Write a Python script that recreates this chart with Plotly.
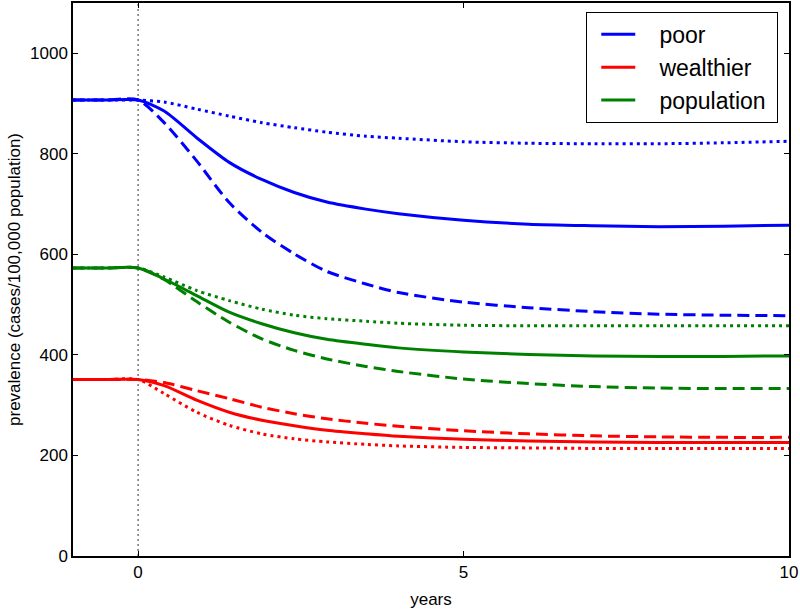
import plotly.graph_objects as go

years = [-1, -0.5, 0, 0.4, 0.9, 1.4, 1.9, 2.4, 2.9, 3.5, 4, 5, 6, 7, 8, 9, 10]

poor_solid = [907, 907, 907, 885, 832, 783, 749, 723, 704, 690, 681, 668, 660, 657, 655, 656, 658]
poor_dashed = [907, 907, 907, 862, 786, 703, 644, 601, 566, 541, 524, 505, 494, 486, 481, 479, 478]
poor_dotted = [907, 907, 907, 903, 889, 875, 862, 852, 843, 835, 831, 824, 821, 820, 820, 822, 825]

pop_solid = [573, 573, 573, 551, 518, 485, 462, 444, 431, 421, 414, 406, 401, 398, 397, 397, 398]
pop_dashed = [573, 573, 573, 550, 506, 465, 432, 409, 392, 377, 367, 352, 343, 337, 334, 333, 333]
pop_dotted = [573, 573, 573, 555, 528, 508, 491, 479, 472, 467, 463, 459, 458, 458, 458, 458, 458]

wealth_solid = [351, 351, 351, 339, 310, 286, 270, 259, 250, 243, 238, 232, 229, 227, 226, 226, 226]
wealth_dashed = [351, 351, 351, 345, 329, 313, 296, 283, 273, 264, 258, 249, 243, 239, 237, 236, 236]
wealth_dotted = [351, 351, 351, 323, 286, 260, 243, 233, 227, 222, 219, 216, 215, 214, 214, 214, 214]

legend_names = ["poor", "wealthier", "population"]
x_ticks = [0, 5, 10]
y_ticks = [0, 200, 400, 600, 800, 1000]

BLUE = "#0000ff"
RED = "#ff0000"
GREEN = "#008000"
FONT = "Liberation Sans, Arial, Helvetica, sans-serif"
NB = "\u00a0"

DASHES = {"solid": "solid", "dash": "12px,6px", "dot": "3px,4px"}

fig = go.Figure()

def add(y, color, dash, name, show, group):
    fig.add_trace(go.Scatter(
        x=years, y=y, mode="lines",
        name=(NB * 3 + name + NB) if show else name,
        showlegend=show,
        legendgroup=group,
        line=dict(color=color, width=3, dash=DASHES[dash],
                  shape="spline", smoothing=0.75),
        hoverinfo="skip",
    ))

add(poor_dotted, BLUE, "dot", legend_names[0], False, "g1")
add(poor_dashed, BLUE, "dash", legend_names[0], False, "g1")
add(pop_dotted, GREEN, "dot", legend_names[2], False, "g3")
add(pop_dashed, GREEN, "dash", legend_names[2], False, "g3")
add(wealth_dotted, RED, "dot", legend_names[1], False, "g2")
add(wealth_dashed, RED, "dash", legend_names[1], False, "g2")
add(poor_solid, BLUE, "solid", legend_names[0], True, "g1")
add(wealth_solid, RED, "solid", legend_names[1], True, "g2")
add(pop_solid, GREEN, "solid", legend_names[2], True, "g3")

fig.add_vline(x=0, line=dict(color="#555555", width=1.2, dash="2px,3px"), layer="below")

fig.update_layout(
    width=800, height=612,
    margin=dict(l=73, r=11, t=1, b=56),
    paper_bgcolor="white", plot_bgcolor="white",
    font=dict(family=FONT, size=17, color="black"),
    showlegend=True,
    legend=dict(
        x=0.985, y=0.984, xanchor="right", yanchor="top",
        bordercolor="black", borderwidth=1, bgcolor="white",
        font=dict(family=FONT, size=23, color="black"),
        traceorder="grouped", tracegroupgap=0,
        itemwidth=34, indentation=9,
    ),
    xaxis=dict(
        range=[-1, 10], tickvals=x_ticks, ticktext=[str(v) for v in x_ticks],
        showgrid=False, zeroline=False, showline=True, linecolor="black",
        linewidth=1.5, mirror="ticks", ticks="inside", ticklen=5,
        tickcolor="black",
        title=dict(text="years", font=dict(family=FONT, size=17), standoff=12),
    ),
    yaxis=dict(
        range=[0, 1100], tickvals=y_ticks, ticktext=[str(v) for v in y_ticks],
        showgrid=False, zeroline=False, showline=True, linecolor="black",
        linewidth=1.5, mirror="ticks", ticks="inside", ticklen=5,
        tickcolor="black",
        title=dict(text="prevalence (cases/100,000 population)",
                   font=dict(family=FONT, size=17), standoff=5),
    ),
)

fig.write_html("out.html", config={"displayModeBar": False},
               post_script="document.body.style.margin='0';")
